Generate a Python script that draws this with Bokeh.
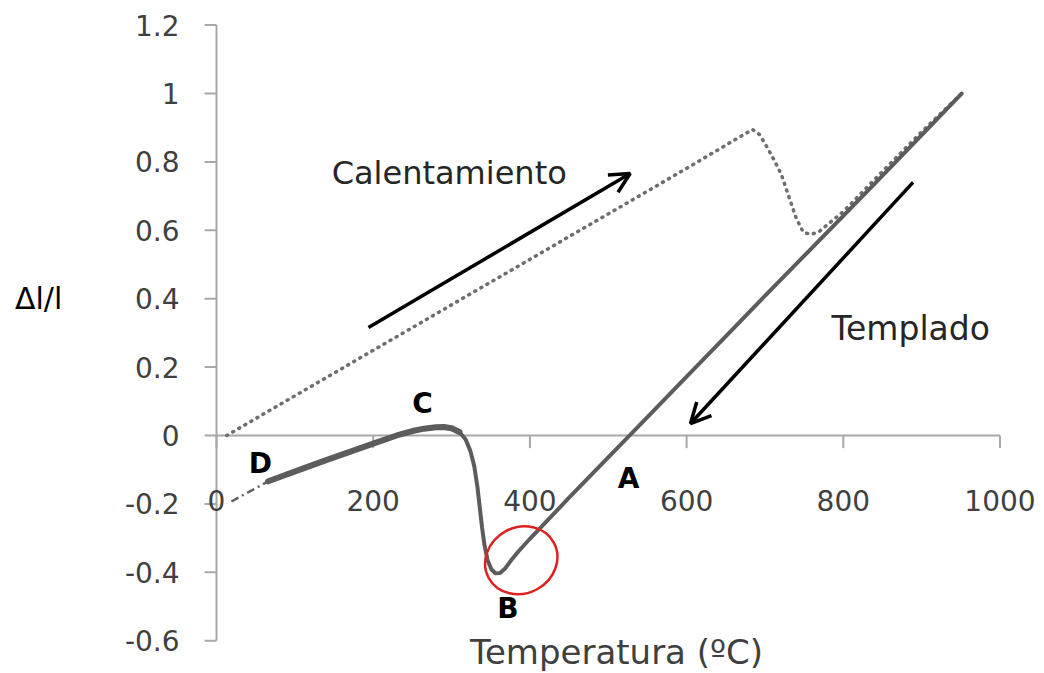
from bokeh.plotting import figure
from bokeh.models import Range1d, Label, LabelSet, ColumnDataSource, Arrow, OpenHead
from bokeh.core.properties import value
from bokeh.embed import file_html
from bokeh.resources import INLINE

# ---- data ----
y_ticks = [-0.6, -0.4, -0.2, 0.0, 0.2, 0.4, 0.6, 0.8, 1.0, 1.2]
y_tick_labels = ["-0.6", "-0.4", "-0.2", "0", "0.2", "0.4", "0.6", "0.8", "1", "1.2"]
x_ticks = [0, 200, 400, 600, 800, 1000]
x_tick_labels = ["0", "200", "400", "600", "800", "1000"]

# heating (Calentamiento), dotted
heat_x = [13, 100, 200, 300, 400, 500, 600, 684, 693, 703, 712, 721, 730, 740, 749, 759, 769, 800, 850, 900, 951]
heat_y = [0.0, 0.116, 0.249, 0.382, 0.515, 0.648, 0.781, 0.895, 0.88, 0.842, 0.804, 0.763, 0.702, 0.635,
          0.594, 0.588, 0.596, 0.655, 0.772, 0.888, 1.0]

# cooling (Templado), solid
cool_x = [951, 900, 850, 800, 750, 700, 650, 600, 550, 500, 450, 420, 400, 385, 375, 368, 362, 356, 351,
          346, 342, 339, 336, 333, 329, 324, 318, 310, 300, 290, 280, 265, 250, 230, 200, 170, 140, 110, 80, 66]
cool_y = [1.0, 0.878, 0.76, 0.642, 0.525, 0.408, 0.29, 0.172, 0.054, -0.064, -0.182, -0.254, -0.302, -0.34,
          -0.368, -0.39, -0.402, -0.403, -0.392, -0.365, -0.32, -0.27, -0.21, -0.15, -0.09, -0.045, -0.012,
          0.01, 0.021, 0.025, 0.024, 0.02, 0.013, 0.0, -0.024, -0.048, -0.072, -0.097, -0.122, -0.134]

# cooling tail near room temperature (thin dash-dot)
tail_x = [19, 66]
tail_y = [-0.193, -0.134]

# point labels
pt_names = ["A", "B", "C", "D"]
pt_x = [526, 372, 263, 56]
pt_y = [-0.126, -0.506, 0.094, -0.082]

# highlighted region around B
ring_x = [389]
ring_y = [-0.365]

# direction arrows [start, end]
heat_arrow = [(194, 0.316), (528, 0.766)]
cool_arrow = [(889, 0.740), (605, 0.035)]

y_title = "Δl/l"
x_title = "Temperatura (ºC)"

FONT = "DejaVu Sans"
AXIS_C = "#a8a8a8"

# ---- figure: frame covers the whole canvas, axes drawn crossing at 0 ----
p = figure(width=1044, height=673, x_range=Range1d(-275.7, 1056.8), y_range=Range1d(-0.696, 1.272),
           output_backend="svg", toolbar_location=None, x_axis_type=None, y_axis_type=None,
           min_border_left=0, min_border_right=0, min_border_top=0, min_border_bottom=0)
p.grid.visible = False
p.outline_line_color = None
p.background_fill_color = "white"
p.border_fill_color = "white"

# y axis at x = 0
p.segment(x0=[0], y0=[y_ticks[0]], x1=[0], y1=[y_ticks[-1]], line_color=AXIS_C, line_width=2)
p.segment(x0=[-15.3] * len(y_ticks), y0=y_ticks, x1=[0] * len(y_ticks), y1=y_ticks,
          line_color=AXIS_C, line_width=2)
ysrc = ColumnDataSource(dict(x=[0] * len(y_ticks), y=y_ticks, t=y_tick_labels))
p.add_layout(LabelSet(x="x", y="y", text="t", source=ysrc, x_offset=-37, text_align="right",
                      text_baseline="middle", text_font=value(FONT), text_font_size=value("28px"),
                      text_color="#404040"))

# x axis at y = 0
p.segment(x0=[x_ticks[0]], y0=[0], x1=[x_ticks[-1]], y1=[0], line_color=AXIS_C, line_width=2)
p.segment(x0=x_ticks, y0=[0] * len(x_ticks), x1=x_ticks, y1=[-0.037] * len(x_ticks),
          line_color=AXIS_C, line_width=2)
xsrc = ColumnDataSource(dict(x=x_ticks, y=[-0.19] * len(x_ticks), t=x_tick_labels))
p.add_layout(LabelSet(x="x", y="y", text="t", source=xsrc, text_align="center", text_baseline="middle",
                      text_font=value(FONT), text_font_size=value("28px"), text_color="#404040"))

# curves
p.line(heat_x, heat_y, line_color="#6e6e6e", line_width=3.5, line_dash="1 6", line_cap="round")
p.line(tail_x, tail_y, line_color="#606060", line_width=2.5, line_dash="8 4 2 4")
p.line(cool_x, cool_y, line_color="#5c5c5c", line_width=4, line_join="round", line_cap="round")
k = cool_x.index(310)
p.line(cool_x[k:], cool_y[k:], line_color="#5c5c5c", line_width=6, line_join="round", line_cap="round")

# ring around B
p.ellipse(x=ring_x, y=ring_y, width=74, height=66, width_units="screen", height_units="screen",
          angle=0.5, fill_color=None, line_color="#dd2222", line_width=2.5)

# arrows
for (xs, ys), (xe, ye) in [heat_arrow, cool_arrow]:
    p.add_layout(Arrow(x_start=xs, y_start=ys, x_end=xe, y_end=ye, line_color="black", line_width=3.5,
                       end=OpenHead(size=20, line_color="black", line_width=3.5)))

# point labels
psrc = ColumnDataSource(dict(x=pt_x, y=pt_y, t=pt_names))
p.add_layout(LabelSet(x="x", y="y", text="t", source=psrc, text_align="center", text_baseline="middle",
                      text_font=value(FONT), text_font_size=value("28px"), text_font_style="bold",
                      text_color="black"))

# annotations
p.add_layout(Label(x=297, y=0.769, text="Calentamiento", text_align="center", text_baseline="middle",
                   text_font=FONT, text_font_size="32px", text_color="#262626"))
p.add_layout(Label(x=886, y=0.313, text="Templado", text_align="center", text_baseline="middle",
                   text_font=FONT, text_font_size="33px", text_color="#262626"))
p.add_layout(Label(x=510.5, y=-0.634, text=x_title, text_align="center", text_baseline="middle",
                   text_font=FONT, text_font_size="34px", text_color="#404040"))
p.add_layout(Label(x=-227, y=0.4, text=y_title, text_align="center", text_baseline="middle",
                   text_font=FONT, text_font_size="30px", text_color="black"))

open("out.html", "w").write(file_html(p, INLINE))
